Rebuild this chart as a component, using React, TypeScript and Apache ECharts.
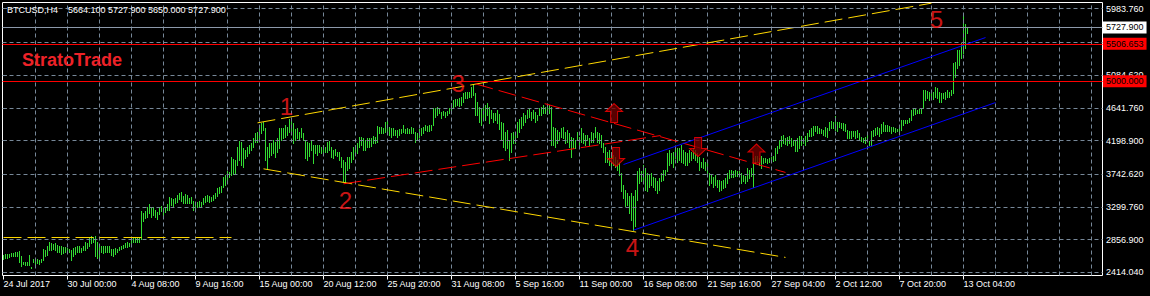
import React, { useEffect, useRef } from 'react';
import * as echarts from 'echarts';

// ---- H4 bars, 24 Jul 2017 16:00 .. 13 Oct 2017 (index 0..482) ----
const highs: number[] = [
  // 0..120
  2646, 2651, 2660, 2664, 2669, 2673, 2678, 2682, 2700, 2633,
  2556, 2543, 2547, 2646, 2480, 2588, 2579, 2592, 2579, 2592,
  2723, 2714, 2768, 2817, 2804, 2790, 2804, 2781, 2768, 2759,
  2750, 2750, 2736, 2723, 2714, 2736, 2750, 2759, 2759, 2736,
  2759, 2813, 2804, 2880, 2903, 2894, 2903, 2813, 2790, 2768,
  2759, 2759, 2759, 2759, 2723, 2723, 2736, 2723, 2750, 2759,
  2781, 2804, 2813, 2804, 2880, 2871, 2894, 2871, 2880, 3240,
  3209, 3240, 3299, 3330, 3299, 3299, 3254, 3232, 3299, 3308,
  3276, 3299, 3330, 3425, 3411, 3398, 3411, 3456, 3479, 3501,
  3443, 3465, 3456, 3411, 3425, 3380, 3366, 3366, 3380, 3366,
  3420, 3443, 3456, 3443, 3434, 3456, 3488, 3546, 3569, 3578,
  3704, 3726, 3785, 3771, 3974, 3938, 3929, 4109, 4190, 4177,
  4087,
  // 121..243
  4065, 4101, 4133, 4155, 4222, 4299, 4313, 4380, 4425, 4448,
  4358, 4101, 4155, 4164, 4200, 4178, 4223, 4358, 4358, 4358,
  4403, 4380, 4479, 4470, 4425, 4344, 4358, 4313, 4358, 4290,
  4200, 4178, 4164, 4200, 4133, 4133, 4133, 4133, 4110, 4133,
  4110, 4178, 4191, 4101, 4065, 4074, 4043, 4043, 3966, 3930,
  3908, 3966, 3975, 4043, 4101, 4133, 4155, 4245, 4245, 4223,
  4200, 4223, 4223, 4223, 4254, 4245, 4389, 4380, 4371, 4358,
  4448, 4461, 4380, 4358, 4358, 4335, 4335, 4344, 4344, 4403,
  4344, 4358, 4344, 4371, 4358, 4313, 4290, 4344, 4358, 4380,
  4403, 4389, 4403, 4403, 4628, 4628, 4641, 4614, 4583, 4592,
  4583, 4596, 4628, 4695, 4740, 4749, 4749, 4763, 4785, 4830,
  4853, 4853, 4853, 4920, 4956, 4830, 4718, 4650, 4628, 4673,
  4673, 4695, 4650,
  // 244..365
  4605, 4569, 4560, 4605, 4551, 4448, 4425, 4313, 4335, 4200,
  4290, 4313, 4299, 4448, 4479, 4515, 4560, 4538, 4605, 4628,
  4583, 4605, 4583, 4538, 4628, 4650, 4673, 4650, 4659, 4673,
  4650, 4380, 4358, 4335, 4313, 4358, 4380, 4313, 4335, 4290,
  4245, 4223, 4200, 4313, 4245, 4358, 4290, 4268, 4268, 4223,
  4313, 4290, 4380, 4313, 4290, 4268, 4155, 4110, 4043, 4065,
  4043, 3998, 3975, 3930, 3908, 3750, 3593, 3525, 3480, 3435,
  3480, 3435, 3525, 3773, 3818, 3773, 3863, 3818, 3750, 3728,
  3750, 3705, 3683, 3638, 3683, 3750, 3795, 3795, 4020, 4065,
  4020, 4043, 4110, 4088, 4088, 4133, 4065, 4043, 4020, 4065,
  4043, 4088, 4065, 4020, 3975, 3908, 3953, 3908, 3908, 3750,
  3728, 3705, 3728, 3660, 3660, 3638, 3660, 3683, 3750, 3795,
  3795, 3773,
  // 366..482
  3796, 3774, 3774, 3752, 3729, 3707, 3819, 3796, 3819, 3954,
  3977, 3977, 3954, 3977, 3954, 3954, 3945, 3954, 3963, 3977,
  4089, 4112, 4202, 4247, 4260, 4224, 4233, 4247, 4224, 4202,
  4179, 4224, 4247, 4247, 4224, 4247, 4292, 4337, 4359, 4382,
  4395, 4382, 4359, 4350, 4337, 4368, 4359, 4449, 4458, 4449,
  4517, 4449, 4440, 4427, 4427, 4413, 4337, 4323, 4314, 4323,
  4314, 4337, 4292, 4233, 4224, 4233, 4269, 4188, 4314, 4337,
  4359, 4368, 4359, 4413, 4440, 4404, 4404, 4395, 4368, 4368,
  4359, 4350, 4368, 4472, 4472, 4472, 4472, 4494, 4607, 4629,
  4629, 4607, 4620, 4629, 4877, 4877, 4863, 4854, 4877, 4854,
  4922, 4899, 4845, 4832, 4832, 4845, 4877, 4854, 4877, 5236,
  5259, 5417, 5417, 5507, 5898, 5763, 5727.9,
];

const lows: number[] = [
  // 0..120
  2592, 2601, 2606, 2615, 2624, 2624, 2633, 2637, 2556, 2498,
  2520, 2507, 2507, 2511, 2462, 2552, 2511, 2534, 2520, 2543,
  2579, 2624, 2646, 2714, 2705, 2723, 2714, 2678, 2691, 2660,
  2669, 2678, 2669, 2678, 2570, 2624, 2660, 2691, 2691, 2691,
  2714, 2714, 2736, 2759, 2804, 2813, 2633, 2610, 2610, 2678,
  2669, 2678, 2691, 2691, 2646, 2624, 2660, 2691, 2714, 2723,
  2736, 2750, 2750, 2768, 2759, 2813, 2826, 2826, 2813, 2858,
  3106, 3142, 3164, 3218, 3155, 3187, 3164, 3128, 3200, 3245,
  3187, 3232, 3254, 3254, 3321, 3299, 3344, 3366, 3398, 3380,
  3353, 3344, 3353, 3344, 3344, 3254, 3276, 3299, 3290, 3299,
  3335, 3366, 3380, 3366, 3380, 3389, 3411, 3443, 3488, 3501,
  3569, 3591, 3659, 3695, 3726, 3740, 3749, 3861, 3929, 3861,
  3830,
  // 121..243
  3952, 3984, 4020, 4065, 4101, 4178, 4178, 4200, 4290, 4335,
  3930, 3818, 3975, 3998, 4020, 3975, 4043, 4088, 4200, 4223,
  4245, 4268, 4313, 4290, 4164, 4200, 4223, 4200, 4245, 4200,
  3953, 3930, 3984, 4065, 3894, 4020, 3998, 4043, 4029, 4043,
  4043, 4043, 4065, 3966, 3953, 3998, 3984, 3930, 3840, 3638,
  3615, 3795, 3818, 3908, 3939, 3998, 4020, 4110, 4133, 4065,
  4065, 4101, 4110, 4119, 4164, 4155, 4178, 4290, 4299, 4290,
  4313, 4290, 4268, 4245, 4268, 4268, 4245, 4268, 4290, 4313,
  4290, 4290, 4299, 4299, 4290, 4178, 4200, 4245, 4268, 4290,
  4335, 4326, 4326, 4335, 4403, 4515, 4538, 4560, 4493, 4538,
  4515, 4538, 4560, 4569, 4650, 4659, 4673, 4659, 4673, 4718,
  4763, 4763, 4785, 4785, 4808, 4538, 4538, 4448, 4403, 4515,
  4470, 4538, 4425,
  // 244..365
  4493, 4448, 4470, 4425, 4344, 4200, 4110, 4065, 4088, 3930,
  4043, 4155, 4164, 4245, 4313, 4358, 4403, 4448, 4493, 4515,
  4470, 4493, 4448, 4470, 4538, 4538, 4560, 4560, 4551, 4560,
  4133, 4133, 4110, 4155, 4200, 4245, 4223, 4155, 4178, 4110,
  3975, 4088, 4088, 4200, 4133, 4178, 4155, 4133, 4200, 4133,
  4178, 4178, 4245, 4178, 4155, 4110, 4043, 3908, 3908, 3863,
  3840, 3863, 3840, 3795, 3728, 3503, 3413, 3300, 3323, 3210,
  3120, 2985, 3030, 3390, 3615, 3638, 3660, 3525, 3503, 3570,
  3593, 3570, 3525, 3480, 3525, 3638, 3660, 3728, 3773, 3863,
  3885, 3840, 3953, 3908, 3930, 3908, 3885, 3863, 3863, 3908,
  3930, 3953, 3930, 3908, 3795, 3840, 3818, 3795, 3750, 3593,
  3615, 3570, 3593, 3570, 3503, 3525, 3548, 3570, 3615, 3683,
  3696, 3696,
  // 366..482
  3707, 3707, 3729, 3617, 3639, 3617, 3639, 3684, 3707, 3558,
  3887, 3909, 3864, 3819, 3887, 3900, 3887, 3900, 3909, 3909,
  3932, 4022, 4089, 4112, 4157, 4143, 4134, 4157, 4112, 4134,
  4044, 4044, 4089, 4134, 4157, 4134, 4179, 4247, 4247, 4269,
  4314, 4292, 4292, 4292, 4269, 4247, 4233, 4337, 4359, 4359,
  4337, 4314, 4368, 4359, 4337, 4323, 4224, 4224, 4224, 4247,
  4224, 4233, 4202, 4179, 4170, 4157, 4179, 4134, 4125, 4247,
  4269, 4278, 4247, 4292, 4314, 4314, 4323, 4314, 4292, 4314,
  4305, 4314, 4314, 4337, 4404, 4427, 4427, 4449, 4472, 4539,
  4548, 4562, 4562, 4562, 4629, 4742, 4764, 4742, 4764, 4755,
  4787, 4773, 4719, 4719, 4764, 4755, 4787, 4787, 4809, 4832,
  5057, 5169, 5214, 5304, 5372, 5439, 5650,
];

// ---- axes ----
const timeLabels: string[] = [
  '24 Jul 2017', '30 Jul 00:00', '4 Aug 08:00', '9 Aug 16:00', '15 Aug 00:00',
  '20 Aug 12:00', '25 Aug 20:00', '31 Aug 08:00', '5 Sep 16:00', '11 Sep 00:00',
  '16 Sep 08:00', '21 Sep 16:00', '27 Sep 04:00', '2 Oct 12:00', '7 Oct 20:00', '13 Oct 04:00',
];
const timeLabelBars: number[] = [0, 32, 64, 96, 128, 160, 192, 224, 256, 288, 320, 352, 384, 416, 448, 480];
const vGridBars: number[] = [16, 32, 48, 64, 80, 96, 112, 128, 144, 160, 176, 192, 208, 224, 240, 256, 272, 288,
  304, 320, 336, 352, 368, 384, 400, 416, 432, 448, 464, 480, 496, 512, 528, 544];
const priceLabels: number[] = [2414.04, 2856.9, 3299.76, 3742.62, 4198.9, 4641.76, 5084.62, 5983.76];
const priceGrid: number[] = [2414.04, 2856.9, 3299.76, 3742.62, 4198.9, 4641.76, 5084.62, 5527.48, 5983.76];
const priceMin = 2373.47;
const priceMax = 6064.98;
const barSlots = 550;

// ---- quote & levels ----
const symbolName = 'BTCUSD,H4';
const quoteOHLC: number[] = [5664.1, 5727.9, 5650.0, 5727.9];
const bidPrice = 5727.9;
const redLevels: number[] = [5000, 5506.653];

// ---- drawn objects (bar index, price) ----
const yellowLines: number[][] = [
  [127, 4438, 464, 6056],
  [130, 3816, 391, 2618],
  [0, 2897, 114, 2897],
];
const redDashLines: number[][] = [
  [236, 4965, 391, 3767],
  [170, 3613, 328.5, 4266],
];
const blueLines: number[][] = [
  [315, 2986, 496, 4712],
  [310, 3874, 491, 5591],
];
const arrowsUp: number[][] = [[305.3, 4570], [376.5, 4023]];
const arrowsDown: number[][] = [[306.3, 3976], [347.3, 4111]];
const waveNames: string[] = ['1', '2', '3', '4', '5'];
const wavePoints: number[][] = [[141.5, 4665], [171, 3394], [227.3, 4963], [314.5, 2752], [466.5, 5841]];

const FONT = '"Liberation Sans", Arial, sans-serif';
const BAR = '#32dc32';
const GRIDC = '#778899';

function segs(list: number[][], color: string, dashed: boolean) {
  return list.map((s) => [
    { coord: [s[0], s[1]], lineStyle: { color, width: 1, type: dashed ? [18, 6] : 'solid' } },
    { coord: [s[2], s[3]] },
  ]);
}

function levelLabel(text: string, bg: string) {
  return {
    show: true,
    position: 'end',
    distance: 0.5,
    formatter: text,
    backgroundColor: bg,
    color: '#000',
    fontSize: 9,
    fontFamily: FONT,
    lineHeight: 10,
    padding: [1, 3, 1, 3],
  };
}

export default function App() {
  const ref = useRef<HTMLDivElement>(null);
  useEffect(() => {
    document.body.style.margin = '0';
    document.body.style.background = '#000';
    const chart = echarts.init(ref.current as HTMLDivElement, null, { renderer: 'svg' });
    const n = Math.min(highs.length, lows.length);
    const bars = [] as number[][];
    for (let i = 0; i < n; i++) bars.push([i, highs[i], lows[i]]);

    const option: any = {
      animation: false,
      backgroundColor: '#000',
      grid: {
        left: 2.5, top: 2.5, width: 1100, height: 273,
        show: true, borderColor: '#ffffff', borderWidth: 1, backgroundColor: '#000',
        containLabel: false, outerBoundsMode: 'none',
      },
      xAxis: {
        type: 'value', min: -0.5, max: barSlots - 0.5,
        splitLine: { show: false }, axisLine: { show: false },
        axisTick: { show: true, customValues: timeLabelBars, length: 4, lineStyle: { color: '#fff' } },
        axisLabel: {
          customValues: timeLabelBars,
          formatter: (v: number) => timeLabels[Math.round(v / 32)] || '',
          color: '#fff', fontSize: 9, fontFamily: FONT, align: 'left', margin: 4,
        },
      },
      yAxis: {
        type: 'value', position: 'right', min: priceMin, max: priceMax,
        splitLine: { show: false }, axisLine: { show: false },
        axisTick: { show: true, customValues: priceLabels, length: 3, lineStyle: { color: '#fff' } },
        axisLabel: {
          customValues: priceLabels,
          formatter: (v: number) => v.toFixed(3),
          color: '#fff', fontSize: 9, fontFamily: FONT, margin: 3.5,
        },
      },
      series: [
        {
          type: 'line', data: [], z: 1, silent: true,
          markLine: {
            silent: true, animation: false, symbol: ['none', 'none'], label: { show: false },
            lineStyle: { color: GRIDC, type: [4, 3], width: 1 },
            data: [
              ...priceGrid.map((v) => ({ yAxis: v })),
              ...vGridBars.map((i) => ({ xAxis: i })),
            ],
          },
        },
        {
          type: 'custom', data: bars, z: 2, silent: true,
          encode: { x: 0, y: [1, 2] },
          renderItem: (params: any, api: any) => {
            const x = api.value(0);
            const hi = api.coord([x, api.value(1)]);
            const lo = api.coord([x, api.value(2)]);
            const px = Math.floor(hi[0]) + 0.5;
            return {
              type: 'line',
              shape: { x1: px, y1: Math.floor(hi[1]), x2: px, y2: Math.ceil(lo[1]) },
              style: { stroke: BAR, lineWidth: 1 },
            };
          },
        },
        {
          type: 'line', data: [], z: 3, silent: true,
          markLine: {
            silent: true, animation: false, symbol: ['none', 'none'], label: { show: false },
            data: [
              ...segs(yellowLines, '#ffd700', true),
              ...segs(redDashLines, '#ff0000', true),
              ...segs(blueLines, '#0000ff', false),
            ],
          },
        },
        {
          type: 'line', data: [], z: 4, silent: true,
          markLine: {
            silent: true, animation: false, symbol: ['none', 'none'],
            data: [
              { yAxis: bidPrice, lineStyle: { color: '#8c99aa', type: 'solid', width: 1 }, label: levelLabel(bidPrice.toFixed(3), '#ffffff') },
              ...redLevels.map((v) => ({
                yAxis: v, lineStyle: { color: '#ff0000', type: 'solid', width: 1 }, label: levelLabel(v.toFixed(3), '#ff0000'),
              })),
            ],
          },
        },
        {
          type: 'scatter', data: arrowsUp, z: 5, silent: true,
          symbol: 'path://M8.5 0L17 8L12 8L12 19L5 19L5 8L0 8Z', symbolSize: [17, 19],
          itemStyle: { color: '#6e0000', borderColor: '#ff0000', borderWidth: 1 },
        },
        {
          type: 'scatter', data: arrowsDown, z: 5, silent: true,
          symbol: 'path://M5 0L12 0L12 11L17 11L8.5 19L0 11L5 11Z', symbolSize: [17, 19],
          itemStyle: { color: '#6e0000', borderColor: '#ff0000', borderWidth: 1 },
        },
        {
          type: 'scatter', z: 6, silent: true, symbolSize: 1,
          itemStyle: { color: 'rgba(0,0,0,0)' },
          data: wavePoints.map((p, k) => ({ name: waveNames[k], value: p })),
          label: { show: true, position: 'inside', formatter: '{b}', fontSize: 24, color: '#ff1a1a', fontFamily: FONT },
        },
      ],
      graphic: [
        { type: 'text', left: 7, top: 5, z: 10, style: { text: symbolName, fill: '#fff', font: '9px ' + FONT } },
        { type: 'text', left: 68, top: 5, z: 10, style: { text: quoteOHLC.map((v) => v.toFixed(3)).join(' '), fill: '#fff', font: '9px ' + FONT } },
        { type: 'text', left: 22, top: 51, z: 10, style: { text: 'StratoTrade', fill: '#ee2228', font: 'bold 18px ' + FONT } },
      ],
    };
    chart.setOption(option);
    return () => chart.dispose();
  }, []);
  return <div ref={ref} style={{ width: 1150, height: 296, background: '#000' }} />;
}
